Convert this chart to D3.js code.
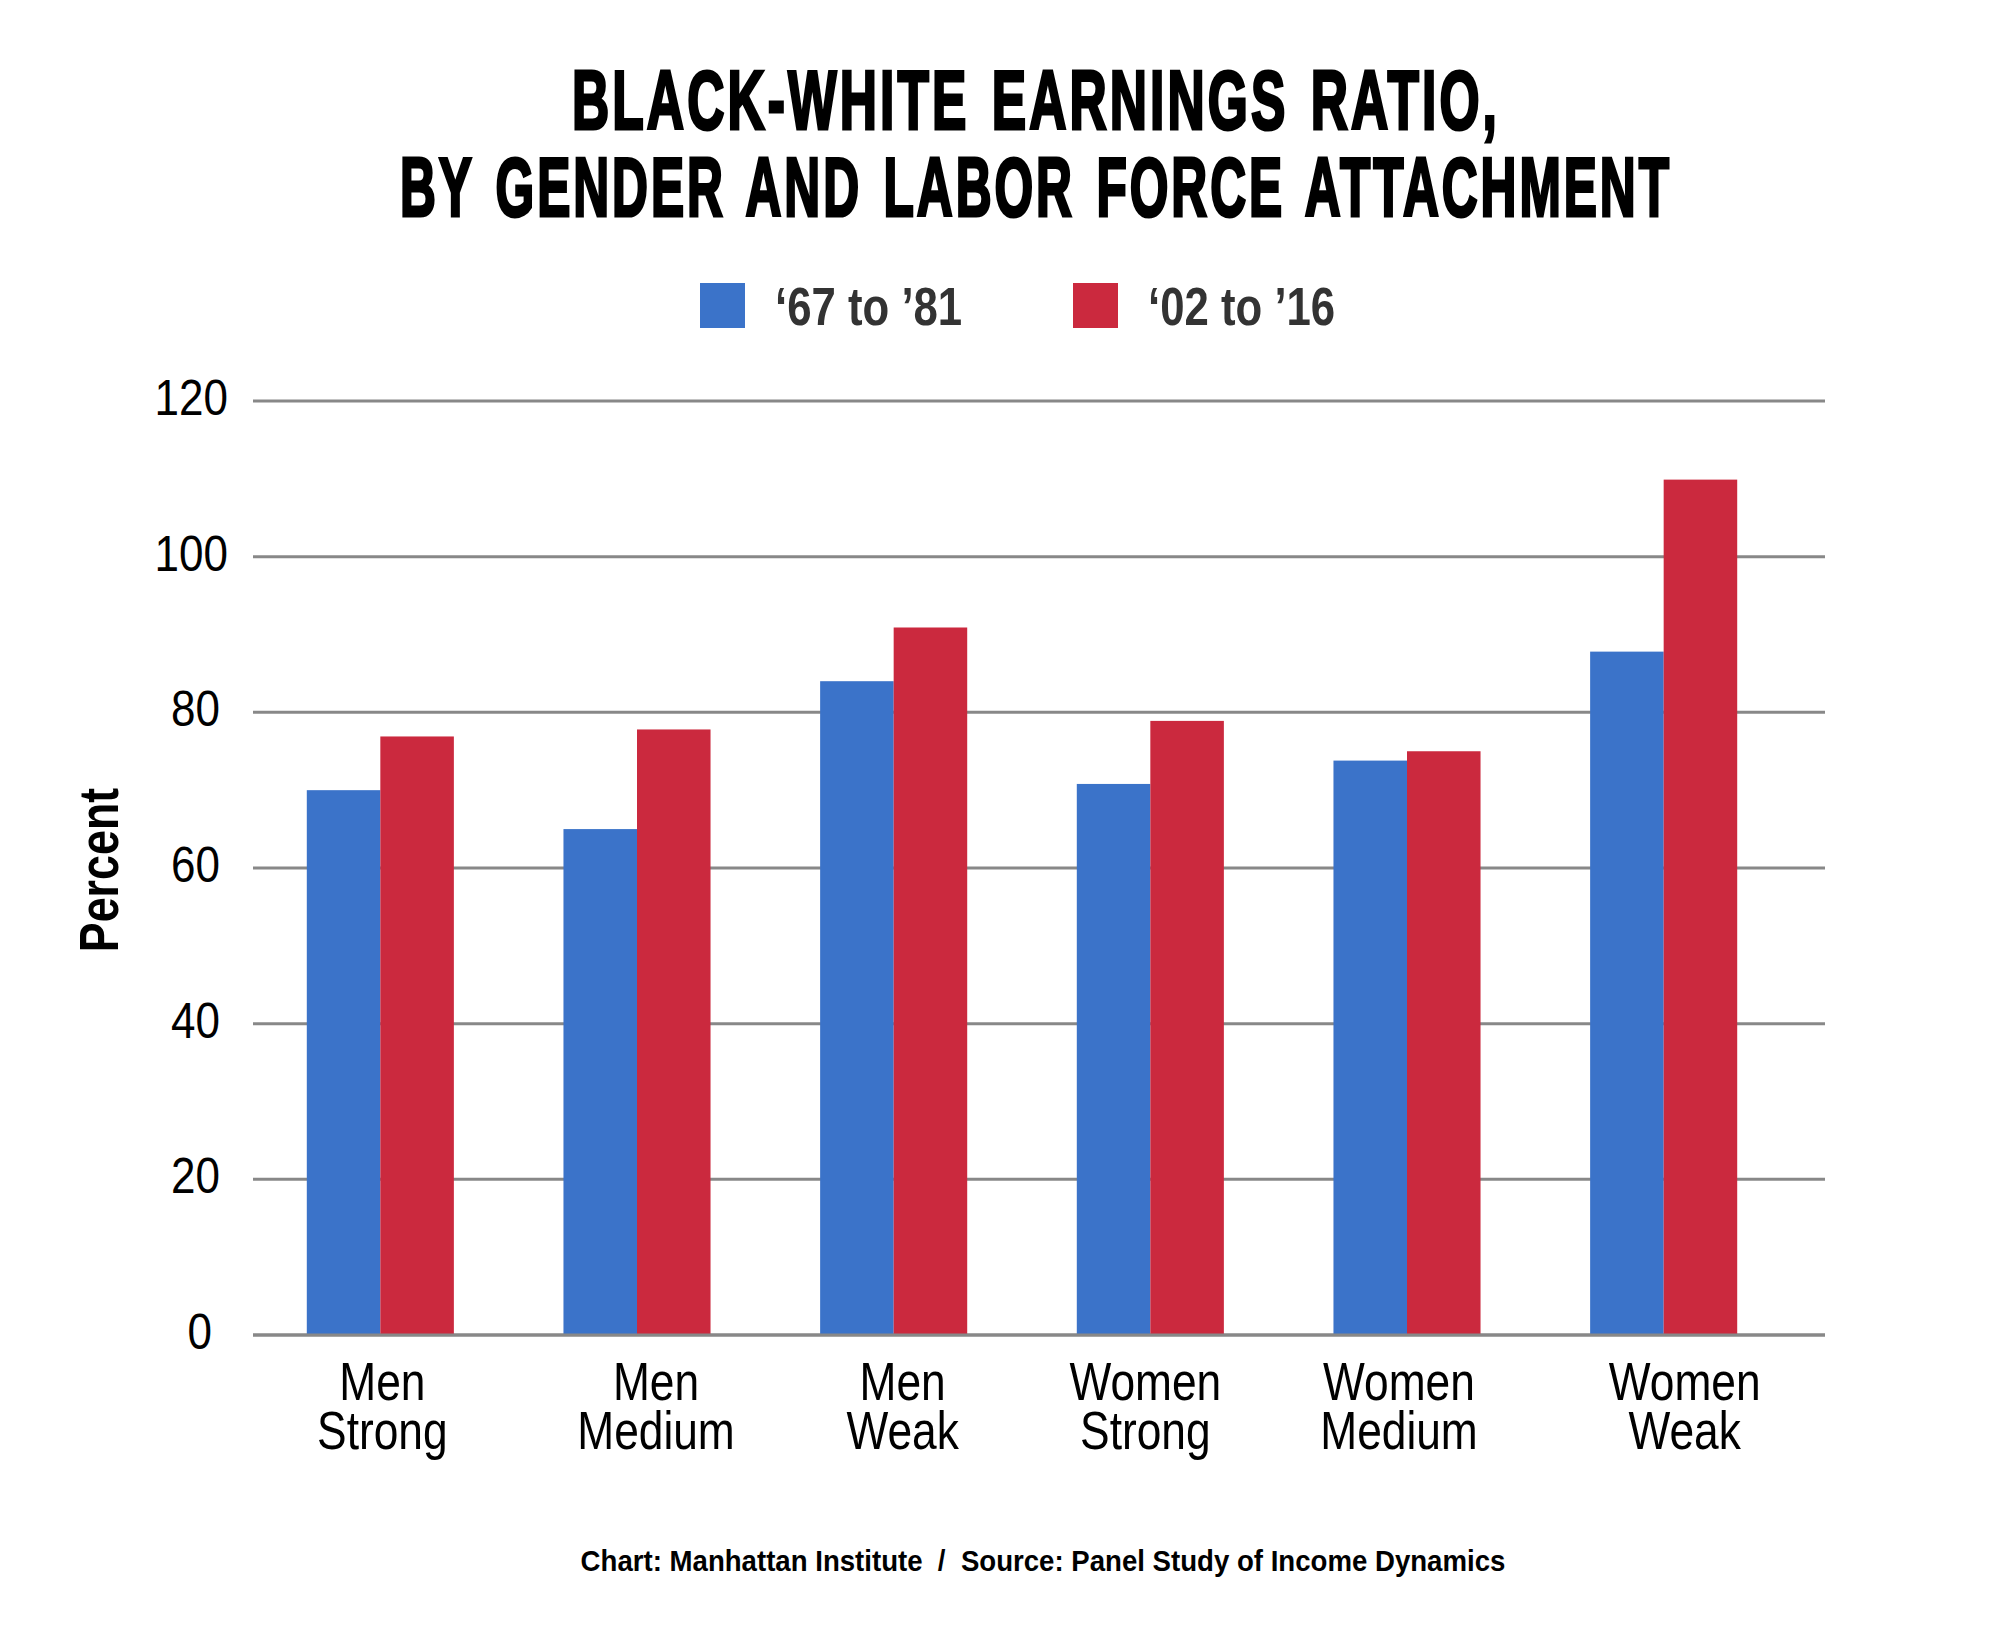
<!DOCTYPE html>
<html>
<head>
<meta charset="utf-8">
<script src="https://cdn.jsdelivr.net/npm/d3@7"></script>
<style>
  html, body { margin: 0; padding: 0; background: #ffffff; }
  svg { display: block; }
  text { font-family: "Liberation Sans", Arial, sans-serif; }
</style>
</head>
<body>
<svg id="chart" width="1998" height="1638"></svg>
<script>
// ---------------- DATA ----------------
const titleLines = ["BLACK-WHITE EARNINGS RATIO,", "BY GENDER AND LABOR FORCE ATTACHMENT"];
const categories = [["Men", "Strong"], ["Men", "Medium"], ["Men", "Weak"],
                    ["Women", "Strong"], ["Women", "Medium"], ["Women", "Weak"]];
const seriesNames = ["\u201867 to \u201981", "\u201802 to \u201916"];
const series1967 = [70, 65, 84, 70.8, 73.8, 87.8];
const series2002 = [76.9, 77.8, 90.9, 78.9, 75, 109.9];
const yTicks = [0, 20, 40, 60, 80, 100, 120];
const yLabel = "Percent";
const sourceText = "Chart: Manhattan Institute\u00a0\u00a0/\u00a0\u00a0Source: Panel Study of Income Dynamics";

// ---------------- LAYOUT / STYLE ----------------
const colors = ["#3b73c9", "#cb293e"];
const labelNudge = [2, 19, 9, -5, -8, 21];
const titleWidths = [928, 1272];
const svg = d3.select("#chart");

function condense(sel, factor) {
  sel.each(function () {
    const w = this.getComputedTextLength();
    d3.select(this).attr("textLength", w * factor).attr("lengthAdjust", "spacingAndGlyphs");
  });
}

const catKeys = categories.map(d => d.join(" "));
const x = d3.scaleBand().domain(catKeys).range([252, 1792]).paddingInner(0.427).paddingOuter(0.2135);
const xs = d3.scaleBand().domain([0, 1]).range([0, x.bandwidth()]);
const y = d3.scaleLinear().domain([0, 120]).range([1335, 401]);

// Title
titleLines.forEach((t, i) => {
  svg.append("text")
    .attr("x", 1036).attr("y", 129 + i * 86.5)
    .attr("text-anchor", "middle")
    .attr("font-size", 84).attr("font-weight", "bold")
    .attr("letter-spacing", 5).attr("word-spacing", 8)
    .attr("fill", "#000").attr("stroke", "#000").attr("stroke-width", 3.2)
    .attr("stroke-linejoin", "miter")
    .attr("textLength", titleWidths[i]).attr("lengthAdjust", "spacingAndGlyphs")
    .text(t);
});

// Legend
const legendX = [700, 1073];
seriesNames.forEach((s, i) => {
  svg.append("rect").attr("x", legendX[i]).attr("y", 283).attr("width", 45).attr("height", 45)
    .attr("fill", colors[i]);
  svg.append("text").attr("x", legendX[i] + 75).attr("y", 325)
    .attr("font-size", 54).attr("font-weight", "bold").attr("fill", "#333333")
    .text(s).call(condense, 0.81);
});

// Gridlines
svg.append("g").selectAll("line").data(yTicks).join("line")
  .attr("x1", 253).attr("x2", 1825)
  .attr("y1", d => y(d)).attr("y2", d => y(d))
  .attr("stroke", "#888888").attr("stroke-width", 3);

// Y tick labels
svg.append("g").selectAll("text").data(yTicks).join("text")
  .attr("x", d => 228 - 8 * (3 - String(d).length))
  .attr("y", d => y(d) + 14)
  .attr("text-anchor", "end")
  .attr("font-size", 50).attr("fill", "#000")
  .text(d => d)
  .call(condense, 0.88);

// Y axis title
svg.append("text")
  .attr("transform", "translate(118,870) rotate(-90)")
  .attr("text-anchor", "middle")
  .attr("font-size", 56).attr("font-weight", "bold").attr("fill", "#000")
  .text(yLabel).call(condense, 0.80);

// Bars
const allSeries = [series1967, series2002];
allSeries.forEach((vals, si) => {
  svg.append("g").selectAll("rect").data(vals).join("rect")
    .attr("x", (d, i) => x(catKeys[i]) + xs(si))
    .attr("width", xs.bandwidth())
    .attr("y", d => y(d))
    .attr("height", d => y(0) - y(d))
    .attr("fill", colors[si]);
});

// Baseline redraw (on top)
svg.append("line").attr("x1", 253).attr("x2", 1825).attr("y1", y(0)).attr("y2", y(0))
  .attr("stroke", "#888888").attr("stroke-width", 3);

// Category labels
categories.forEach((c, i) => {
  c.forEach((line, li) => {
    svg.append("text")
      .attr("x", x(catKeys[i]) + x.bandwidth() / 2 + labelNudge[i])
      .attr("y", 1400 + li * 49)
      .attr("text-anchor", "middle")
      .attr("font-size", 54).attr("fill", "#000")
      .text(line).call(condense, 0.82);
  });
});

// Source
svg.append("text").attr("x", 1043).attr("y", 1571)
  .attr("text-anchor", "middle")
  .attr("font-size", 30).attr("font-weight", "bold").attr("fill", "#000")
  .text(sourceText).call(condense, 0.92);
</script>
</body>
</html>
